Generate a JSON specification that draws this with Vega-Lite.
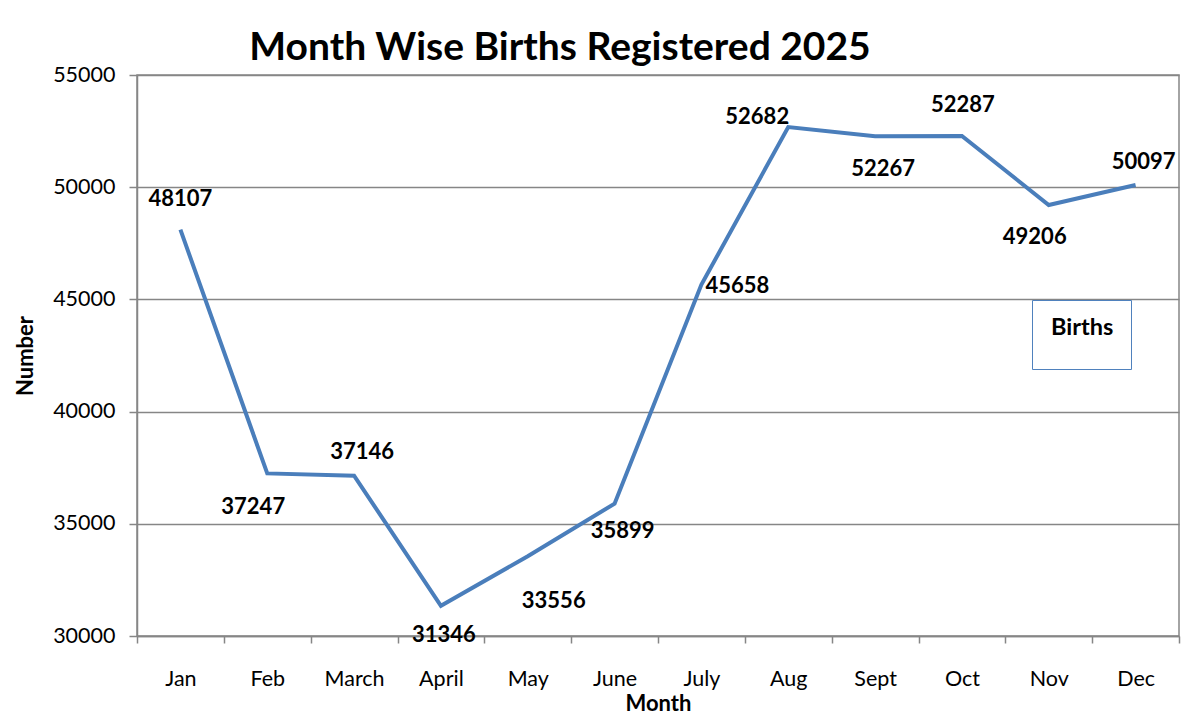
{
  "$schema": "https://vega.github.io/schema/vega-lite/v6.json",
  "width": 1042,
  "height": 561,
  "autosize": {"type": "none"},
  "padding": {"left": 137, "top": 75, "right": 4, "bottom": 80},
  "background": "white",
  "title": {
    "text": "Month Wise Births Registered 2025",
    "font": "Lato",
    "fontSize": 39,
    "fontWeight": "bold",
    "color": "#000000",
    "anchor": "middle",
    "dx": -98,
    "offset": -4
  },
  "config": {
    "view": {"stroke": "#868686", "strokeWidth": 1.5},
    "axis": {
      "labelFont": "Lato",
      "labelFontSize": 21.5,
      "labelColor": "#000000",
      "titleFont": "Lato",
      "titleFontSize": 22,
      "titleFontWeight": "bold",
      "titleColor": "#000000",
      "domainColor": "#868686",
      "domainWidth": 1.5,
      "tickColor": "#868686",
      "tickWidth": 1.5,
      "gridColor": "#868686",
      "gridWidth": 1.3
    }
  },
  "data": {
    "values": [
      {"month": "Jan", "births": 48107, "series": "Births"},
      {"month": "Feb", "births": 37247, "series": "Births"},
      {"month": "March", "births": 37146, "series": "Births"},
      {"month": "April", "births": 31346, "series": "Births"},
      {"month": "May", "births": 33556, "series": "Births"},
      {"month": "June", "births": 35899, "series": "Births"},
      {"month": "July", "births": 45658, "series": "Births"},
      {"month": "Aug", "births": 52682, "series": "Births"},
      {"month": "Sept", "births": 52267, "series": "Births"},
      {"month": "Oct", "births": 52287, "series": "Births"},
      {"month": "Nov", "births": 49206, "series": "Births"},
      {"month": "Dec", "births": 50097, "series": "Births"}
    ]
  },
  "encoding": {
    "x": {
      "field": "month",
      "type": "nominal",
      "sort": ["Jan", "Feb", "March", "April", "May", "June", "July", "Aug", "Sept", "Oct", "Nov", "Dec"],
      "scale": {"paddingInner": 0, "paddingOuter": 0},
      "axis": {
        "title": "Month",
        "labelAngle": 0,
        "tickBand": "extent",
        "tickSize": 7,
        "labelPadding": 25,
        "titlePadding": 4,
        "grid": false
      }
    },
    "y": {
      "field": "births",
      "type": "quantitative",
      "scale": {"domain": [30000, 55000], "nice": false, "zero": false},
      "axis": {
        "title": "Number",
        "values": [30000, 35000, 40000, 45000, 50000, 55000],
        "format": "d",
        "tickSize": 8,
        "labelPadding": 14,
        "titlePadding": 15,
        "grid": true
      }
    }
  },
  "layer": [
    {
      "mark": {"type": "line", "strokeWidth": 4},
      "encoding": {
        "color": {
          "field": "series",
          "type": "nominal",
          "scale": {"range": ["#4A7EBB"]},
          "legend": {
            "title": null,
            "orient": "none",
            "legendX": 895,
            "legendY": 225,
            "padding": 17,
            "strokeColor": "#4F81BD",
            "symbolType": "circle",
            "symbolSize": 1225,
            "symbolOpacity": 0,
            "symbolStrokeWidth": 0,
            "labelOffset": -33,
            "labelFont": "Lato",
            "labelFontSize": 23.5,
            "labelFontWeight": "bold",
            "labelColor": "#000000",
            "labelBaseline": "alphabetic"
          }
        }
      }
    },
    {"transform": [{"filter": "datum.month === 'Jan'"}], "mark": {"type": "text", "dx": 0, "dy": -31, "font": "Lato", "fontSize": 22, "fontWeight": "bold", "color": "#000000"}, "encoding": {"text": {"field": "births", "type": "quantitative", "format": "d"}}},
    {"transform": [{"filter": "datum.month === 'Feb'"}], "mark": {"type": "text", "dx": -14, "dy": 34, "font": "Lato", "fontSize": 22, "fontWeight": "bold", "color": "#000000"}, "encoding": {"text": {"field": "births", "type": "quantitative", "format": "d"}}},
    {"transform": [{"filter": "datum.month === 'March'"}], "mark": {"type": "text", "dx": 8, "dy": -24, "font": "Lato", "fontSize": 22, "fontWeight": "bold", "color": "#000000"}, "encoding": {"text": {"field": "births", "type": "quantitative", "format": "d"}}},
    {"transform": [{"filter": "datum.month === 'April'"}], "mark": {"type": "text", "dx": 3, "dy": 29, "font": "Lato", "fontSize": 22, "fontWeight": "bold", "color": "#000000"}, "encoding": {"text": {"field": "births", "type": "quantitative", "format": "d"}}},
    {"transform": [{"filter": "datum.month === 'May'"}], "mark": {"type": "text", "dx": 26, "dy": 45, "font": "Lato", "fontSize": 22, "fontWeight": "bold", "color": "#000000"}, "encoding": {"text": {"field": "births", "type": "quantitative", "format": "d"}}},
    {"transform": [{"filter": "datum.month === 'June'"}], "mark": {"type": "text", "dx": 8, "dy": 27, "font": "Lato", "fontSize": 22, "fontWeight": "bold", "color": "#000000"}, "encoding": {"text": {"field": "births", "type": "quantitative", "format": "d"}}},
    {"transform": [{"filter": "datum.month === 'July'"}], "mark": {"type": "text", "dx": 36, "dy": 1, "font": "Lato", "fontSize": 22, "fontWeight": "bold", "color": "#000000"}, "encoding": {"text": {"field": "births", "type": "quantitative", "format": "d"}}},
    {"transform": [{"filter": "datum.month === 'Aug'"}], "mark": {"type": "text", "dx": -31, "dy": -10, "font": "Lato", "fontSize": 22, "fontWeight": "bold", "color": "#000000"}, "encoding": {"text": {"field": "births", "type": "quantitative", "format": "d"}}},
    {"transform": [{"filter": "datum.month === 'Sept'"}], "mark": {"type": "text", "dx": 8, "dy": 33, "font": "Lato", "fontSize": 22, "fontWeight": "bold", "color": "#000000"}, "encoding": {"text": {"field": "births", "type": "quantitative", "format": "d"}}},
    {"transform": [{"filter": "datum.month === 'Oct'"}], "mark": {"type": "text", "dx": 1, "dy": -31, "font": "Lato", "fontSize": 22, "fontWeight": "bold", "color": "#000000"}, "encoding": {"text": {"field": "births", "type": "quantitative", "format": "d"}}},
    {"transform": [{"filter": "datum.month === 'Nov'"}], "mark": {"type": "text", "dx": -14, "dy": 32, "font": "Lato", "fontSize": 22, "fontWeight": "bold", "color": "#000000"}, "encoding": {"text": {"field": "births", "type": "quantitative", "format": "d"}}},
    {"transform": [{"filter": "datum.month === 'Dec'"}], "mark": {"type": "text", "dx": 8, "dy": -23, "font": "Lato", "fontSize": 22, "fontWeight": "bold", "color": "#000000"}, "encoding": {"text": {"field": "births", "type": "quantitative", "format": "d"}}}
  ]
}
